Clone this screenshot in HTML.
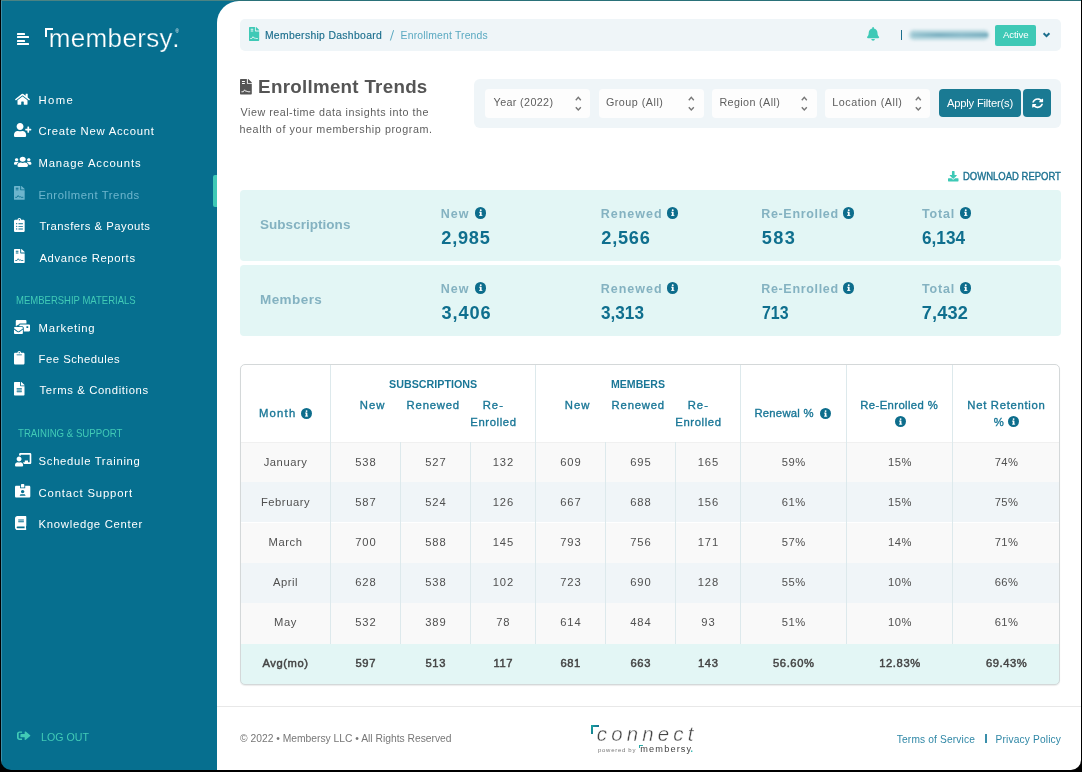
<!DOCTYPE html>
<html><head><meta charset="utf-8"><title>Enrollment Trends</title>
<style>
html,body{margin:0;padding:0;background:#000;width:1082px;height:772px;overflow:hidden}
#win{will-change:transform;position:absolute;left:0;top:0;width:1082px;height:772px;background:#066f8f;clip-path:inset(0px 1px 2px 1px round 0px 0px 10px 10px);overflow:hidden;font-family:"Liberation Sans",sans-serif}
.t{position:absolute;line-height:1;white-space:nowrap;font-family:"Liberation Sans",sans-serif}
svg{overflow:visible}
</style></head><body>
<div id="win">
<div style="position:absolute;left:0px;top:0px;width:1082px;height:1px;background:#4b8383"></div>
<div style="position:absolute;left:234px;top:0px;width:848px;height:1px;background:#2a7179"></div>
<div style="position:absolute;left:1px;top:1px;width:1px;height:771px;background:#3a8faa"></div>
<div style="position:absolute;left:217px;top:1px;width:865px;height:771px;background:#fff;border-top-left-radius:22px"></div>
<div style="position:absolute;left:17px;top:32.9px;width:7.9px;height:2px;background:#fff;border-radius:0.5px"></div>
<div style="position:absolute;left:17px;top:36.1px;width:12.1px;height:2px;background:#fff;border-radius:0.5px"></div>
<div style="position:absolute;left:17px;top:39.6px;width:7.9px;height:2px;background:#fff;border-radius:0.5px"></div>
<div style="position:absolute;left:17px;top:43.1px;width:12.1px;height:2px;background:#fff;border-radius:0.5px"></div>
<div style="position:absolute;left:45px;top:28.4px;width:7.6px;height:1.9px;background:#fff"></div>
<div style="position:absolute;left:45px;top:28.4px;width:1.9px;height:9.1px;background:#fff"></div>
<div class="t" style="left:175.6px;top:29.6px;font-size:4.5px;color:#fff">&#174;</div>
<svg style="position:absolute;left:14.7px;top:92.6px" width="15" height="12.5" viewBox="0 0 576 512" preserveAspectRatio="none"><path fill="#ffffff" d="M280.37 148.26L96 300.11V464a16 16 0 0 0 16 16l112.06-.29a16 16 0 0 0 15.92-16V368a16 16 0 0 1 16-16h64a16 16 0 0 1 16 16v95.64a16 16 0 0 0 16 16.05L464 480a16 16 0 0 0 16-16V300L295.67 148.26a12.19 12.19 0 0 0-15.3 0zM571.6 251.47L488 182.56V44.05a12 12 0 0 0-12-12h-56a12 12 0 0 0-12 12v72.61L318.47 43a48 48 0 0 0-61 0L4.34 251.47a12 12 0 0 0-1.6 16.9l25.5 31A12 12 0 0 0 45.15 301l235.22-193.74a12.19 12.19 0 0 1 15.3 0L530.9 301a12 12 0 0 0 16.9-1.6l25.5-31a12 12 0 0 0-1.7-16.93z"/></svg>
<svg style="position:absolute;left:14.4px;top:123px" width="17.3" height="14" viewBox="0 0 640 512" preserveAspectRatio="none"><path fill="#ffffff" d="M624 208h-64v-64c0-8.8-7.2-16-16-16h-32c-8.8 0-16 7.2-16 16v64h-64c-8.8 0-16 7.2-16 16v32c0 8.8 7.2 16 16 16h64v64c0 8.8 7.2 16 16 16h32c8.8 0 16-7.2 16-16v-64h64c8.8 0 16-7.2 16-16v-32c0-8.8-7.2-16-16-16zm-400 48c70.7 0 128-57.3 128-128S294.7 0 224 0 96 57.3 96 128s57.3 128 128 128zm89.6 32h-16.7c-22.2 10.2-46.9 16-72.9 16s-50.6-5.8-72.9-16h-16.7C60.2 288 0 348.2 0 422.4V464c0 26.5 21.5 48 48 48h352c26.5 0 48-21.5 48-48v-41.6c0-74.2-60.2-134.4-134.4-134.4z"/></svg>
<svg style="position:absolute;left:14.4px;top:156.2px" width="17.4" height="11.7" viewBox="0 0 640 512" preserveAspectRatio="none"><path fill="#ffffff" d="M96 224c35.3 0 64-28.7 64-64s-28.7-64-64-64-64 28.7-64 64 28.7 64 64 64zm448 0c35.3 0 64-28.7 64-64s-28.7-64-64-64-64 28.7-64 64 28.7 64 64 64zm32 32h-64c-17.6 0-33.5 7.1-45.1 18.6 40.3 22.1 68.9 62 75.1 109.4h66c17.7 0 32-14.3 32-32v-32c0-35.3-28.7-64-64-64zm-256 0c61.9 0 112-50.1 112-112S381.9 32 320 32 208 82.1 208 144s50.1 112 112 112zm76.8 32h-8.3c-20.8 10-43.9 16-68.5 16s-47.6-6-68.5-16h-8.3C179.6 288 128 339.6 128 403.2V432c0 26.5 21.5 48 48 48h288c26.5 0 48-21.5 48-48v-28.8c0-63.6-51.6-115.2-115.2-115.2zm-223.7-13.4C161.5 263.1 145.6 256 128 256H64c-35.3 0-64 28.7-64 64v32c0 17.7 14.3 32 32 32h65.9c6.3-47.4 34.9-87.3 75.2-109.4z"/></svg>
<svg style="position:absolute;left:14.4px;top:186px" width="10.7" height="13.8" viewBox="0 0 384 512" preserveAspectRatio="none"><path fill="#6db5cd" d="M224 136V0H24C10.7 0 0 10.7 0 24v464c0 13.3 10.7 24 24 24h336c13.3 0 24-10.7 24-24V160H248c-13.2 0-24-10.8-24-24z"/><path fill="#6db5cd" d="M377 105L279.1 7c-4.5-4.5-10.6-7-17-7H256v128h128v-6.1c0-6.3-2.5-12.4-7-16.9z"/><rect x="64" y="64" width="96" height="34" rx="8" fill="#066f8f"/><rect x="64" y="128" width="96" height="34" rx="8" fill="#066f8f"/><path d="M60 420 L110 418 L150 355 L190 410 L225 395 L255 420 L320 420" fill="none" stroke="#066f8f" stroke-width="30" stroke-linejoin="round" stroke-linecap="round"/></svg>
<svg style="position:absolute;left:14.4px;top:218px" width="10.7" height="14" viewBox="0 0 384 512" preserveAspectRatio="none"><path fill="#ffffff" d="M336 64h-80c0-35.3-28.7-64-64-64s-64 28.7-64 64H48C21.5 64 0 85.5 0 112v352c0 26.5 21.5 48 48 48h288c26.5 0 48-21.5 48-48V112c0-26.5-21.5-48-48-48zM96 424c-13.3 0-24-10.7-24-24s10.7-24 24-24 24 10.7 24 24-10.7 24-24 24zm0-96c-13.3 0-24-10.7-24-24s10.7-24 24-24 24 10.7 24 24-10.7 24-24 24zm0-96c-13.3 0-24-10.7-24-24s10.7-24 24-24 24 10.7 24 24-10.7 24-24 24zm96-192c13.3 0 24 10.7 24 24s-10.7 24-24 24-24-10.7-24-24 10.7-24 24-24zm128 368c0 4.4-3.6 8-8 8H168c-4.4 0-8-3.6-8-8v-16c0-4.4 3.6-8 8-8h144c4.4 0 8 3.6 8 8v16zm0-96c0 4.4-3.6 8-8 8H168c-4.4 0-8-3.6-8-8v-16c0-4.4 3.6-8 8-8h144c4.4 0 8 3.6 8 8v16zm0-96c0 4.4-3.6 8-8 8H168c-4.4 0-8-3.6-8-8v-16c0-4.4 3.6-8 8-8h144c4.4 0 8 3.6 8 8v16z"/></svg>
<svg style="position:absolute;left:14.4px;top:249px" width="10.7" height="14" viewBox="0 0 384 512" preserveAspectRatio="none"><path fill="#ffffff" d="M224 136V0H24C10.7 0 0 10.7 0 24v464c0 13.3 10.7 24 24 24h336c13.3 0 24-10.7 24-24V160H248c-13.2 0-24-10.8-24-24z"/><path fill="#ffffff" d="M377 105L279.1 7c-4.5-4.5-10.6-7-17-7H256v128h128v-6.1c0-6.3-2.5-12.4-7-16.9z"/><rect x="64" y="64" width="96" height="34" rx="8" fill="#066f8f"/><rect x="64" y="128" width="96" height="34" rx="8" fill="#066f8f"/><path d="M60 420 L110 418 L150 355 L190 410 L225 395 L255 420 L320 420" fill="none" stroke="#066f8f" stroke-width="30" stroke-linejoin="round" stroke-linecap="round"/></svg>
<svg style="position:absolute;left:14.2px;top:320px" width="16" height="14" viewBox="0 0 576 512" preserveAspectRatio="none"><path fill="#ffffff" d="M160 448c-25.6 0-51.2-22.4-64-32-64-44.8-83.2-60.8-96-70.4V480c0 17.67 14.33 32 32 32h256c17.67 0 32-14.33 32-32V345.6c-12.8 9.6-32 25.6-96 70.4-12.8 9.6-38.4 32-64 32zm128-192H32c-17.67 0-32 14.33-32 32v16c25.6 19.2 22.4 19.2 115.2 86.4 9.6 6.4 28.8 25.6 44.8 25.6s35.2-19.2 44.8-22.4c92.8-67.2 89.6-67.2 115.2-86.4V288c0-17.670-14.33-32-32-32zm256-96H224c-17.67 0-32 14.33-32 32v32h96c33.21 0 60.59 25.42 63.71 57.82l.29-.22V416h192c17.67 0 32-14.33 32-32V192c0-17.67-14.33-32-32-32zm-32 128h-64v-64h64v64zm-352-96c0-35.29 28.71-64 64-64h224V32c0-17.67-14.33-32-32-32H96C78.33 0 64 14.33 64 32v192h32v-32z"/></svg>
<svg style="position:absolute;left:14.4px;top:351px" width="10.5" height="13.5" viewBox="0 0 384 512" preserveAspectRatio="none"><path fill="#ffffff" d="M384 112v352c0 26.51-21.49 48-48 48H48c-26.51 0-48-21.49-48-48V112c0-26.51 21.49-48 48-48h80c0-35.29 28.71-64 64-64s64 28.71 64 64h80c26.51 0 48 21.49 48 48zM192 40c-13.255 0-24 10.745-24 24s10.745 24 24 24 24-10.745 24-24-10.745-24-24-24m96 114v-20a6 6 0 0 0-6-6H102a6 6 0 0 0-6 6v20a6 6 0 0 0 6 6h180a6 6 0 0 0 6-6z"/></svg>
<svg style="position:absolute;left:14.4px;top:382px" width="10.5" height="13.5" viewBox="0 0 384 512" preserveAspectRatio="none"><path fill="#ffffff" d="M224 136V0H24C10.7 0 0 10.7 0 24v464c0 13.3 10.7 24 24 24h336c13.3 0 24-10.7 24-24V160H248c-13.2 0-24-10.8-24-24zm64 236c0 6.6-5.4 12-12 12H108c-6.6 0-12-5.4-12-12v-8c0-6.6 5.4-12 12-12h168c6.6 0 12 5.4 12 12v8zm0-64c0 6.6-5.4 12-12 12H108c-6.6 0-12-5.4-12-12v-8c0-6.6 5.4-12 12-12h168c6.6 0 12 5.4 12 12v8zm0-72v8c0 6.6-5.4 12-12 12H108c-6.6 0-12-5.4-12-12v-8c0-6.6 5.4-12 12-12h168c6.6 0 12 5.4 12 12zm96-114.1v6.1H256V0h6.1c6.4 0 12.5 2.5 17 7l97.9 98c4.5 4.5 7 10.6 7 16.9z"/></svg>
<svg style="position:absolute;left:14.8px;top:452.5px" width="16.3" height="13.5" viewBox="0 0 640 512" preserveAspectRatio="none"><path fill="#ffffff" d="M208 352c-2.39 0-4.78.35-7.06 1.09C187.98 357.3 174.35 360 160 360c-14.35 0-27.980-2.7-40.95-6.91-2.28-.74-4.66-1.09-7.05-1.09C49.94 352-.33 402.48 0 464.62.14 490.88 21.73 512 48 512h224c26.27 0 47.86-21.12 48-47.38.33-62.14-49.94-112.62-112-112.62zm-48-32c53.02 0 96-42.98 96-96s-42.98-96-96-96-96 42.98-96 96 42.98 96 96 96zM592 0H208c-26.47 0-48 22.25-48 49.59V96c23.42 0 45.1 6.78 64 17.8V64h352v288h-64v-64H384v64h-76.24c19.1 16.69 33.12 38.73 39.69 64H592c26.47 0 48-22.25 48-49.59V49.59C640 22.25 618.47 0 592 0z"/></svg>
<svg style="position:absolute;left:14.8px;top:483.5px" width="15.3" height="13.5" viewBox="0 0 576 512" preserveAspectRatio="none"><path fill="#ffffff" d="M528 64H384v96H192V64H48C21.5 64 0 85.5 0 112v352c0 26.5 21.5 48 48 48h480c26.5 0 48-21.5 48-48V112c0-26.5-21.5-48-48-48zM288 224c35.3 0 64 28.7 64 64s-28.7 64-64 64-64-28.7-64-64 28.7-64 64-64zm93.3 224H194.7c-10.4 0-18.8-10-15.6-19.8 8.3-25.6 32.4-44.2 60.7-44.2h8.2c12.3 5.1 25.7 8 39.8 8s27.6-2.9 39.8-8h8.2c28.4 0 52.4 18.5 60.7 44.2 3.2 9.8-5.2 19.8-15.6 19.8zM352 32c0-17.7-14.3-32-32-32h-64c-17.7 0-32 14.3-32 32v96h128V32z"/></svg>
<svg style="position:absolute;left:14.9px;top:516px" width="11.3" height="14" viewBox="0 0 448 512" preserveAspectRatio="none"><path fill="#ffffff" d="M448 360V24c0-13.3-10.7-24-24-24H96C43 0 0 43 0 96v320c0 53 43 96 96 96h328c13.3 0 24-10.7 24-24v-16c0-7.5-3.5-14.3-8.9-18.7-4.2-15.4-4.2-59.3 0-74.7 5.4-4.3 8.9-11.1 8.9-18.6zM128 134c0-3.3 2.7-6 6-6h212c3.3 0 6 2.7 6 6v20c0 3.3-2.7 6-6 6H134c-3.3 0-6-2.7-6-6v-20zm0 64c0-3.3 2.7-6 6-6h212c3.3 0 6 2.7 6 6v20c0 3.3-2.7 6-6 6H134c-3.3 0-6-2.7-6-6v-20zm253.4 250H96c-17.7 0-32-14.3-32-32 0-17.6 14.4-32 32-32h285.4c-1.9 17.1-1.9 46.9 0 64z"/></svg>
<svg style="position:absolute;left:16.8px;top:730.3px" width="13.6" height="11.4" viewBox="0 0 512 512" preserveAspectRatio="none"><path fill="#41cab6" d="M497 273L329 441c-15 15-41 4.5-41-17v-96H152c-13.3 0-24-10.7-24-24v-96c0-13.3 10.7-24 24-24h136V88c0-21.4 25.9-32 41-17l168 168c9.3 9.4 9.3 24.6 0 34zM192 436v-40c0-6.6-5.4-12-12-12H96c-17.7 0-32-14.3-32-32V160c0-17.7 14.3-32 32-32h84c6.6 0 12-5.4 12-12V76c0-6.6-5.4-12-12-12H96c-53 0-96 43-96 96v192c0 53 43 96 96 96h84c6.6 0 12-5.4 12-12z"/></svg>
<div style="position:absolute;left:213px;top:175px;width:4px;height:32px;background:#3ec9b6;border-radius:2px 0 0 2px"></div>
<div style="position:absolute;left:240px;top:19px;width:821px;height:32px;background:#eff5f8;border-radius:5px"></div>
<svg style="position:absolute;left:249px;top:27px" width="10.2" height="14" viewBox="0 0 384 512" preserveAspectRatio="none"><path fill="#3ec9b6" d="M224 136V0H24C10.7 0 0 10.7 0 24v464c0 13.3 10.7 24 24 24h336c13.3 0 24-10.7 24-24V160H248c-13.2 0-24-10.8-24-24z"/><path fill="#3ec9b6" d="M377 105L279.1 7c-4.5-4.5-10.6-7-17-7H256v128h128v-6.1c0-6.3-2.5-12.4-7-16.9z"/><rect x="64" y="64" width="96" height="34" rx="8" fill="#eff5f8"/><rect x="64" y="128" width="96" height="34" rx="8" fill="#eff5f8"/><path d="M60 420 L110 418 L150 355 L190 410 L225 395 L255 420 L320 420" fill="none" stroke="#eff5f8" stroke-width="30" stroke-linejoin="round" stroke-linecap="round"/></svg>
<svg style="position:absolute;left:388px;top:29px" width="8" height="13"><line x1="5.6" y1="1.2" x2="2.4" y2="11.5" stroke="#5aa9c1" stroke-width="1"/></svg>
<svg style="position:absolute;left:867.2px;top:27px" width="12.2" height="13.8" viewBox="0 0 448 512" preserveAspectRatio="none"><path fill="#3ec9b6" d="M224 512c35.32 0 63.97-28.65 63.97-64H160.03c0 35.35 28.65 64 63.97 64zm215.39-149.71c-19.32-20.76-55.47-51.990-55.47-154.29 0-77.7-54.48-139.9-127.94-155.16V32c0-17.67-14.32-32-31.98-32s-31.98 14.33-31.98 32v20.84C118.56 68.1 64.08 130.3 64.08 208c0 102.3-36.15 133.53-55.47 154.29-6 6.45-8.66 14.16-8.61 21.71.11 16.4 12.98 32 32.1 32h383.8c19.12 0 32-15.6 32.1-32 .05-7.55-2.61-15.27-8.61-21.71z"/></svg>
<div style="position:absolute;left:900.5px;top:30.3px;width:1.2px;height:9.5px;background:#1b6e8d"></div>
<div style="position:absolute;left:909px;top:29.5px;width:80px;height:10px;background:#b4d5de;border-radius:5px;filter:blur(1.8px)"></div>
<div style="position:absolute;left:912px;top:32.5px;width:76px;height:4px;background:linear-gradient(90deg,#9cc6d2,#7fb2c2 35%,#8dbccb 65%,#7db1c1);border-radius:2px;filter:blur(1.2px)"></div>
<div style="position:absolute;left:995px;top:25px;width:41px;height:21px;background:#3ec9b6;border-radius:2px"></div>
<svg style="position:absolute;left:1042px;top:31px" width="9" height="8"><path d="M1.6 2.3 L4.5 5.2 L7.4 2.3" fill="none" stroke="#1b6e8d" stroke-width="2"/></svg>
<svg style="position:absolute;left:240.2px;top:79px" width="11.8" height="15.6" viewBox="0 0 384 512" preserveAspectRatio="none"><path fill="#555555" d="M224 136V0H24C10.7 0 0 10.7 0 24v464c0 13.3 10.7 24 24 24h336c13.3 0 24-10.7 24-24V160H248c-13.2 0-24-10.8-24-24z"/><path fill="#555555" d="M377 105L279.1 7c-4.5-4.5-10.6-7-17-7H256v128h128v-6.1c0-6.3-2.5-12.4-7-16.9z"/><rect x="64" y="64" width="96" height="34" rx="8" fill="#ffffff"/><rect x="64" y="128" width="96" height="34" rx="8" fill="#ffffff"/><path d="M60 420 L110 418 L150 355 L190 410 L225 395 L255 420 L320 420" fill="none" stroke="#ffffff" stroke-width="30" stroke-linejoin="round" stroke-linecap="round"/></svg>
<div style="position:absolute;left:474px;top:79px;width:587px;height:49px;background:#eff5f8;border-radius:6px"></div>
<div style="position:absolute;left:485px;top:89px;width:105px;height:29px;background:#fdfdfd;border-radius:4px"></div>
<div style="position:absolute;left:599px;top:89px;width:105px;height:29px;background:#fdfdfd;border-radius:4px"></div>
<div style="position:absolute;left:712px;top:89px;width:105px;height:29px;background:#fdfdfd;border-radius:4px"></div>
<div style="position:absolute;left:825px;top:89px;width:105px;height:29px;background:#fdfdfd;border-radius:4px"></div>
<svg style="position:absolute;left:575.3px;top:95.5px" width="7" height="16"><path d="M0.8 4.2 L3.3 1.4 L5.8 4.2 M0.8 11.2 L3.3 14 L5.8 11.2" fill="none" stroke="#777" stroke-width="1.4"/></svg>
<svg style="position:absolute;left:688.3px;top:95.5px" width="7" height="16"><path d="M0.8 4.2 L3.3 1.4 L5.8 4.2 M0.8 11.2 L3.3 14 L5.8 11.2" fill="none" stroke="#777" stroke-width="1.4"/></svg>
<svg style="position:absolute;left:801.2px;top:95.5px" width="7" height="16"><path d="M0.8 4.2 L3.3 1.4 L5.8 4.2 M0.8 11.2 L3.3 14 L5.8 11.2" fill="none" stroke="#777" stroke-width="1.4"/></svg>
<svg style="position:absolute;left:914.6px;top:95.5px" width="7" height="16"><path d="M0.8 4.2 L3.3 1.4 L5.8 4.2 M0.8 11.2 L3.3 14 L5.8 11.2" fill="none" stroke="#777" stroke-width="1.4"/></svg>
<div style="position:absolute;left:939px;top:89px;width:82px;height:28px;background:#1a7a93;border-radius:4px"></div>
<div style="position:absolute;left:1023px;top:89px;width:28px;height:28px;background:#1a7a93;border-radius:4px"></div>
<svg style="position:absolute;left:1031.7px;top:98.2px" width="11.3" height="10.3" viewBox="0 0 512 512" preserveAspectRatio="none"><path fill="#fff" d="M370.72 133.28C339.458 104.008 298.888 87.962 255.848 88c-77.458.068-144.328 53.178-162.791 126.85-1.344 5.363-6.122 9.15-11.651 9.15H24.103c-7.498 0-13.194-6.807-11.807-14.176C33.933 94.924 134.813 8 256 8c66.448 0 126.791 26.136 171.315 68.685L463.03 40.97C478.149 25.851 504 36.559 504 57.941V192c0 13.255-10.745 24-24 24H345.941c-21.382 0-32.09-25.851-16.971-40.971l41.75-41.749zM32 296h134.059c21.382 0 32.09 25.851 16.971 40.971l-41.75 41.75c31.262 29.273 71.835 45.319 114.876 45.28 77.418-.07 144.315-53.144 162.787-126.849 1.344-5.363 6.122-9.15 11.651-9.15h57.304c7.498 0 13.194 6.807 11.807 14.176C478.067 417.076 377.187 504 256 504c-66.448 0-126.791-26.136-171.315-68.685L48.97 471.03C33.851 486.149 8 475.441 8 454.059V320c0-13.255 10.745-24 24-24z"/></svg>
<svg style="position:absolute;left:947.6px;top:170.8px" width="10.5" height="10.5" viewBox="0 0 512 512" preserveAspectRatio="none"><path fill="#3ec9b6" d="M216 0h80c13.3 0 24 10.7 24 24v168h87.7c17.8 0 26.7 21.5 14.1 34.1L269.7 378.3c-7.5 7.5-19.8 7.5-27.3 0L90.1 226.1c-12.6-12.6-3.7-34.1 14.1-34.1H192V24c0-13.3 10.7-24 24-24zm296 376v112c0 13.3-10.7 24-24 24H24c-13.3 0-24-10.7-24-24V376c0-13.3 10.7-24 24-24h146.7l49 49c20.1 20.1 52.5 20.1 72.6 0l49-49H488c13.3 0 24 10.7 24 24z"/></svg>
<div style="position:absolute;left:240px;top:190px;width:821px;height:71px;background:#e3f6f5;border-radius:4px"></div>
<div style="position:absolute;left:240px;top:265px;width:821px;height:71px;background:#e3f6f5;border-radius:4px"></div>
<div style="position:absolute;left:474.8px;top:207px;width:11.5px;height:11.5px;border-radius:50%;background:#0d6d8c"></div>
<svg style="position:absolute;left:474.8px;top:207px" width="11.5" height="11.5" viewBox="0 0 12 12"><rect x="5.1" y="5" width="1.8" height="4" fill="#fff"/><rect x="4.3" y="5" width="2" height="0.9" fill="#fff"/><rect x="4.3" y="8.3" width="3.4" height="0.9" fill="#fff"/><circle cx="6" cy="3.3" r="1" fill="#fff"/></svg>
<div style="position:absolute;left:666.8px;top:207px;width:11.5px;height:11.5px;border-radius:50%;background:#0d6d8c"></div>
<svg style="position:absolute;left:666.8px;top:207px" width="11.5" height="11.5" viewBox="0 0 12 12"><rect x="5.1" y="5" width="1.8" height="4" fill="#fff"/><rect x="4.3" y="5" width="2" height="0.9" fill="#fff"/><rect x="4.3" y="8.3" width="3.4" height="0.9" fill="#fff"/><circle cx="6" cy="3.3" r="1" fill="#fff"/></svg>
<div style="position:absolute;left:842.6px;top:207px;width:11.5px;height:11.5px;border-radius:50%;background:#0d6d8c"></div>
<svg style="position:absolute;left:842.6px;top:207px" width="11.5" height="11.5" viewBox="0 0 12 12"><rect x="5.1" y="5" width="1.8" height="4" fill="#fff"/><rect x="4.3" y="5" width="2" height="0.9" fill="#fff"/><rect x="4.3" y="8.3" width="3.4" height="0.9" fill="#fff"/><circle cx="6" cy="3.3" r="1" fill="#fff"/></svg>
<div style="position:absolute;left:959.6px;top:207px;width:11.5px;height:11.5px;border-radius:50%;background:#0d6d8c"></div>
<svg style="position:absolute;left:959.6px;top:207px" width="11.5" height="11.5" viewBox="0 0 12 12"><rect x="5.1" y="5" width="1.8" height="4" fill="#fff"/><rect x="4.3" y="5" width="2" height="0.9" fill="#fff"/><rect x="4.3" y="8.3" width="3.4" height="0.9" fill="#fff"/><circle cx="6" cy="3.3" r="1" fill="#fff"/></svg>
<div style="position:absolute;left:474.8px;top:282.1px;width:11.5px;height:11.5px;border-radius:50%;background:#0d6d8c"></div>
<svg style="position:absolute;left:474.8px;top:282.1px" width="11.5" height="11.5" viewBox="0 0 12 12"><rect x="5.1" y="5" width="1.8" height="4" fill="#fff"/><rect x="4.3" y="5" width="2" height="0.9" fill="#fff"/><rect x="4.3" y="8.3" width="3.4" height="0.9" fill="#fff"/><circle cx="6" cy="3.3" r="1" fill="#fff"/></svg>
<div style="position:absolute;left:666.8px;top:282.1px;width:11.5px;height:11.5px;border-radius:50%;background:#0d6d8c"></div>
<svg style="position:absolute;left:666.8px;top:282.1px" width="11.5" height="11.5" viewBox="0 0 12 12"><rect x="5.1" y="5" width="1.8" height="4" fill="#fff"/><rect x="4.3" y="5" width="2" height="0.9" fill="#fff"/><rect x="4.3" y="8.3" width="3.4" height="0.9" fill="#fff"/><circle cx="6" cy="3.3" r="1" fill="#fff"/></svg>
<div style="position:absolute;left:842.6px;top:282.1px;width:11.5px;height:11.5px;border-radius:50%;background:#0d6d8c"></div>
<svg style="position:absolute;left:842.6px;top:282.1px" width="11.5" height="11.5" viewBox="0 0 12 12"><rect x="5.1" y="5" width="1.8" height="4" fill="#fff"/><rect x="4.3" y="5" width="2" height="0.9" fill="#fff"/><rect x="4.3" y="8.3" width="3.4" height="0.9" fill="#fff"/><circle cx="6" cy="3.3" r="1" fill="#fff"/></svg>
<div style="position:absolute;left:959.6px;top:282.1px;width:11.5px;height:11.5px;border-radius:50%;background:#0d6d8c"></div>
<svg style="position:absolute;left:959.6px;top:282.1px" width="11.5" height="11.5" viewBox="0 0 12 12"><rect x="5.1" y="5" width="1.8" height="4" fill="#fff"/><rect x="4.3" y="5" width="2" height="0.9" fill="#fff"/><rect x="4.3" y="8.3" width="3.4" height="0.9" fill="#fff"/><circle cx="6" cy="3.3" r="1" fill="#fff"/></svg>
<div style="position:absolute;left:240px;top:364px;width:820px;height:321px;background:#fff;border-radius:5px"></div>
<div style="position:absolute;left:240px;top:442px;width:820px;height:40.39999999999998px;background:#f9f9f9"></div>
<div style="position:absolute;left:240px;top:482.4px;width:820px;height:40.10000000000002px;background:#f0f5f8"></div>
<div style="position:absolute;left:240px;top:522.5px;width:820px;height:40.0px;background:#f9f9f9"></div>
<div style="position:absolute;left:240px;top:562.5px;width:820px;height:40.0px;background:#f0f5f8"></div>
<div style="position:absolute;left:240px;top:602.5px;width:820px;height:41.200000000000045px;background:#f9f9f9"></div>
<div style="position:absolute;left:240px;top:643.7px;width:820px;height:41.299999999999955px;background:#e3f6f5;border-radius:0 0 5px 5px"></div>
<div style="position:absolute;left:240px;top:441.6px;width:820px;height:1px;background:#f0f0f0"></div>
<div style="position:absolute;left:330.0px;top:364px;width:1px;height:78px;background:#dde9ec"></div>
<div style="position:absolute;left:534.9px;top:364px;width:1px;height:78px;background:#dde9ec"></div>
<div style="position:absolute;left:739.8px;top:364px;width:1px;height:78px;background:#dde9ec"></div>
<div style="position:absolute;left:846.2px;top:364px;width:1px;height:78px;background:#dde9ec"></div>
<div style="position:absolute;left:952.2px;top:364px;width:1px;height:78px;background:#dde9ec"></div>
<div style="position:absolute;left:330.0px;top:442px;width:1px;height:201.70000000000005px;background:#dde9ec"></div>
<div style="position:absolute;left:399.9px;top:442px;width:1px;height:201.70000000000005px;background:#dde9ec"></div>
<div style="position:absolute;left:470.0px;top:442px;width:1px;height:201.70000000000005px;background:#dde9ec"></div>
<div style="position:absolute;left:534.9px;top:442px;width:1px;height:201.70000000000005px;background:#dde9ec"></div>
<div style="position:absolute;left:604.9px;top:442px;width:1px;height:201.70000000000005px;background:#dde9ec"></div>
<div style="position:absolute;left:675.1px;top:442px;width:1px;height:201.70000000000005px;background:#dde9ec"></div>
<div style="position:absolute;left:739.8px;top:442px;width:1px;height:201.70000000000005px;background:#dde9ec"></div>
<div style="position:absolute;left:846.2px;top:442px;width:1px;height:201.70000000000005px;background:#dde9ec"></div>
<div style="position:absolute;left:952.2px;top:442px;width:1px;height:201.70000000000005px;background:#dde9ec"></div>
<div style="position:absolute;left:240px;top:364px;width:818px;height:319px;border:1px solid #d4d8d9;border-radius:5px;box-shadow:0 1px 1px rgba(0,0,0,0.08)"></div>
<div style="position:absolute;left:300.9px;top:407.9px;width:11.1px;height:11.1px;border-radius:50%;background:#0d6d8c"></div>
<svg style="position:absolute;left:300.9px;top:407.9px" width="11.1" height="11.1" viewBox="0 0 12 12"><rect x="5.1" y="5" width="1.8" height="4" fill="#fff"/><rect x="4.3" y="5" width="2" height="0.9" fill="#fff"/><rect x="4.3" y="8.3" width="3.4" height="0.9" fill="#fff"/><circle cx="6" cy="3.3" r="1" fill="#fff"/></svg>
<div style="position:absolute;left:819.9px;top:408.3px;width:11.2px;height:11.2px;border-radius:50%;background:#0d6d8c"></div>
<svg style="position:absolute;left:819.9px;top:408.3px" width="11.2" height="11.2" viewBox="0 0 12 12"><rect x="5.1" y="5" width="1.8" height="4" fill="#fff"/><rect x="4.3" y="5" width="2" height="0.9" fill="#fff"/><rect x="4.3" y="8.3" width="3.4" height="0.9" fill="#fff"/><circle cx="6" cy="3.3" r="1" fill="#fff"/></svg>
<div style="position:absolute;left:895px;top:416px;width:11.2px;height:11.2px;border-radius:50%;background:#0d6d8c"></div>
<svg style="position:absolute;left:895px;top:416px" width="11.2" height="11.2" viewBox="0 0 12 12"><rect x="5.1" y="5" width="1.8" height="4" fill="#fff"/><rect x="4.3" y="5" width="2" height="0.9" fill="#fff"/><rect x="4.3" y="8.3" width="3.4" height="0.9" fill="#fff"/><circle cx="6" cy="3.3" r="1" fill="#fff"/></svg>
<div style="position:absolute;left:1008.3px;top:416px;width:11.2px;height:11.2px;border-radius:50%;background:#0d6d8c"></div>
<svg style="position:absolute;left:1008.3px;top:416px" width="11.2" height="11.2" viewBox="0 0 12 12"><rect x="5.1" y="5" width="1.8" height="4" fill="#fff"/><rect x="4.3" y="5" width="2" height="0.9" fill="#fff"/><rect x="4.3" y="8.3" width="3.4" height="0.9" fill="#fff"/><circle cx="6" cy="3.3" r="1" fill="#fff"/></svg>
<div class="t" style="left:240.28px;width:90.5px;text-align:center;top:456.62px;font-size:11.2px;letter-spacing:0.55px;color:#505050;">January</div>
<div class="t" style="left:330.95px;width:69.89999999999998px;text-align:center;top:456.62px;font-size:11.2px;letter-spacing:0.9px;color:#505050;">538</div>
<div class="t" style="left:400.85px;width:70.10000000000002px;text-align:center;top:456.62px;font-size:11.2px;letter-spacing:0.9px;color:#505050;">527</div>
<div class="t" style="left:470.95px;width:64.89999999999998px;text-align:center;top:456.62px;font-size:11.2px;letter-spacing:0.9px;color:#505050;">132</div>
<div class="t" style="left:535.85px;width:70.0px;text-align:center;top:456.62px;font-size:11.2px;letter-spacing:0.9px;color:#505050;">609</div>
<div class="t" style="left:605.85px;width:70.20000000000005px;text-align:center;top:456.62px;font-size:11.2px;letter-spacing:0.9px;color:#505050;">695</div>
<div class="t" style="left:676.05px;width:64.69999999999993px;text-align:center;top:456.62px;font-size:11.2px;letter-spacing:0.9px;color:#505050;">165</div>
<div class="t" style="left:740.55px;width:106.40000000000009px;text-align:center;top:456.62px;font-size:11.2px;letter-spacing:0.5px;color:#505050;">59%</div>
<div class="t" style="left:846.95px;width:106.0px;text-align:center;top:456.62px;font-size:11.2px;letter-spacing:0.5px;color:#505050;">15%</div>
<div class="t" style="left:952.95px;width:107.29999999999995px;text-align:center;top:456.62px;font-size:11.2px;letter-spacing:0.5px;color:#505050;">74%</div>
<div class="t" style="left:240.28px;width:90.5px;text-align:center;top:496.92px;font-size:11.2px;letter-spacing:0.55px;color:#505050;">February</div>
<div class="t" style="left:330.95px;width:69.89999999999998px;text-align:center;top:496.92px;font-size:11.2px;letter-spacing:0.9px;color:#505050;">587</div>
<div class="t" style="left:400.85px;width:70.10000000000002px;text-align:center;top:496.92px;font-size:11.2px;letter-spacing:0.9px;color:#505050;">524</div>
<div class="t" style="left:470.95px;width:64.89999999999998px;text-align:center;top:496.92px;font-size:11.2px;letter-spacing:0.9px;color:#505050;">126</div>
<div class="t" style="left:535.85px;width:70.0px;text-align:center;top:496.92px;font-size:11.2px;letter-spacing:0.9px;color:#505050;">667</div>
<div class="t" style="left:605.85px;width:70.20000000000005px;text-align:center;top:496.92px;font-size:11.2px;letter-spacing:0.9px;color:#505050;">688</div>
<div class="t" style="left:676.05px;width:64.69999999999993px;text-align:center;top:496.92px;font-size:11.2px;letter-spacing:0.9px;color:#505050;">156</div>
<div class="t" style="left:740.55px;width:106.40000000000009px;text-align:center;top:496.92px;font-size:11.2px;letter-spacing:0.5px;color:#505050;">61%</div>
<div class="t" style="left:846.95px;width:106.0px;text-align:center;top:496.92px;font-size:11.2px;letter-spacing:0.5px;color:#505050;">15%</div>
<div class="t" style="left:952.95px;width:107.29999999999995px;text-align:center;top:496.92px;font-size:11.2px;letter-spacing:0.5px;color:#505050;">75%</div>
<div class="t" style="left:240.28px;width:90.5px;text-align:center;top:537.02px;font-size:11.2px;letter-spacing:0.55px;color:#505050;">March</div>
<div class="t" style="left:330.95px;width:69.89999999999998px;text-align:center;top:537.02px;font-size:11.2px;letter-spacing:0.9px;color:#505050;">700</div>
<div class="t" style="left:400.85px;width:70.10000000000002px;text-align:center;top:537.02px;font-size:11.2px;letter-spacing:0.9px;color:#505050;">588</div>
<div class="t" style="left:470.95px;width:64.89999999999998px;text-align:center;top:537.02px;font-size:11.2px;letter-spacing:0.9px;color:#505050;">145</div>
<div class="t" style="left:535.85px;width:70.0px;text-align:center;top:537.02px;font-size:11.2px;letter-spacing:0.9px;color:#505050;">793</div>
<div class="t" style="left:605.85px;width:70.20000000000005px;text-align:center;top:537.02px;font-size:11.2px;letter-spacing:0.9px;color:#505050;">756</div>
<div class="t" style="left:676.05px;width:64.69999999999993px;text-align:center;top:537.02px;font-size:11.2px;letter-spacing:0.9px;color:#505050;">171</div>
<div class="t" style="left:740.55px;width:106.40000000000009px;text-align:center;top:537.02px;font-size:11.2px;letter-spacing:0.5px;color:#505050;">57%</div>
<div class="t" style="left:846.95px;width:106.0px;text-align:center;top:537.02px;font-size:11.2px;letter-spacing:0.5px;color:#505050;">14%</div>
<div class="t" style="left:952.95px;width:107.29999999999995px;text-align:center;top:537.02px;font-size:11.2px;letter-spacing:0.5px;color:#505050;">71%</div>
<div class="t" style="left:240.28px;width:90.5px;text-align:center;top:577.12px;font-size:11.2px;letter-spacing:0.55px;color:#505050;">April</div>
<div class="t" style="left:330.95px;width:69.89999999999998px;text-align:center;top:577.12px;font-size:11.2px;letter-spacing:0.9px;color:#505050;">628</div>
<div class="t" style="left:400.85px;width:70.10000000000002px;text-align:center;top:577.12px;font-size:11.2px;letter-spacing:0.9px;color:#505050;">538</div>
<div class="t" style="left:470.95px;width:64.89999999999998px;text-align:center;top:577.12px;font-size:11.2px;letter-spacing:0.9px;color:#505050;">102</div>
<div class="t" style="left:535.85px;width:70.0px;text-align:center;top:577.12px;font-size:11.2px;letter-spacing:0.9px;color:#505050;">723</div>
<div class="t" style="left:605.85px;width:70.20000000000005px;text-align:center;top:577.12px;font-size:11.2px;letter-spacing:0.9px;color:#505050;">690</div>
<div class="t" style="left:676.05px;width:64.69999999999993px;text-align:center;top:577.12px;font-size:11.2px;letter-spacing:0.9px;color:#505050;">128</div>
<div class="t" style="left:740.55px;width:106.40000000000009px;text-align:center;top:577.12px;font-size:11.2px;letter-spacing:0.5px;color:#505050;">55%</div>
<div class="t" style="left:846.95px;width:106.0px;text-align:center;top:577.12px;font-size:11.2px;letter-spacing:0.5px;color:#505050;">10%</div>
<div class="t" style="left:952.95px;width:107.29999999999995px;text-align:center;top:577.12px;font-size:11.2px;letter-spacing:0.5px;color:#505050;">66%</div>
<div class="t" style="left:240.28px;width:90.5px;text-align:center;top:617.22px;font-size:11.2px;letter-spacing:0.55px;color:#505050;">May</div>
<div class="t" style="left:330.95px;width:69.89999999999998px;text-align:center;top:617.22px;font-size:11.2px;letter-spacing:0.9px;color:#505050;">532</div>
<div class="t" style="left:400.85px;width:70.10000000000002px;text-align:center;top:617.22px;font-size:11.2px;letter-spacing:0.9px;color:#505050;">389</div>
<div class="t" style="left:470.95px;width:64.89999999999998px;text-align:center;top:617.22px;font-size:11.2px;letter-spacing:0.9px;color:#505050;">78</div>
<div class="t" style="left:535.85px;width:70.0px;text-align:center;top:617.22px;font-size:11.2px;letter-spacing:0.9px;color:#505050;">614</div>
<div class="t" style="left:605.85px;width:70.20000000000005px;text-align:center;top:617.22px;font-size:11.2px;letter-spacing:0.9px;color:#505050;">484</div>
<div class="t" style="left:676.05px;width:64.69999999999993px;text-align:center;top:617.22px;font-size:11.2px;letter-spacing:0.9px;color:#505050;">93</div>
<div class="t" style="left:740.55px;width:106.40000000000009px;text-align:center;top:617.22px;font-size:11.2px;letter-spacing:0.5px;color:#505050;">51%</div>
<div class="t" style="left:846.95px;width:106.0px;text-align:center;top:617.22px;font-size:11.2px;letter-spacing:0.5px;color:#505050;">10%</div>
<div class="t" style="left:952.95px;width:107.29999999999995px;text-align:center;top:617.22px;font-size:11.2px;letter-spacing:0.5px;color:#505050;">61%</div>
<div class="t" style="left:240.28px;width:90.5px;text-align:center;top:658.02px;font-size:11.2px;letter-spacing:0.55px;color:#444;-webkit-text-stroke:0.45px #444;">Avg(mo)</div>
<div class="t" style="left:330.80px;width:69.89999999999998px;text-align:center;top:658.02px;font-size:11.2px;letter-spacing:0.6px;color:#444;-webkit-text-stroke:0.45px #444;">597</div>
<div class="t" style="left:400.70px;width:70.10000000000002px;text-align:center;top:658.02px;font-size:11.2px;letter-spacing:0.6px;color:#444;-webkit-text-stroke:0.45px #444;">513</div>
<div class="t" style="left:470.80px;width:64.89999999999998px;text-align:center;top:658.02px;font-size:11.2px;letter-spacing:0.6px;color:#444;-webkit-text-stroke:0.45px #444;">117</div>
<div class="t" style="left:535.70px;width:70.0px;text-align:center;top:658.02px;font-size:11.2px;letter-spacing:0.6px;color:#444;-webkit-text-stroke:0.45px #444;">681</div>
<div class="t" style="left:605.70px;width:70.20000000000005px;text-align:center;top:658.02px;font-size:11.2px;letter-spacing:0.6px;color:#444;-webkit-text-stroke:0.45px #444;">663</div>
<div class="t" style="left:675.90px;width:64.69999999999993px;text-align:center;top:658.02px;font-size:11.2px;letter-spacing:0.6px;color:#444;-webkit-text-stroke:0.45px #444;">143</div>
<div class="t" style="left:740.60px;width:106.40000000000009px;text-align:center;top:658.02px;font-size:11.2px;letter-spacing:0.6px;color:#444;-webkit-text-stroke:0.45px #444;">56.60%</div>
<div class="t" style="left:847.00px;width:106.0px;text-align:center;top:658.02px;font-size:11.2px;letter-spacing:0.6px;color:#444;-webkit-text-stroke:0.45px #444;">12.83%</div>
<div class="t" style="left:953.00px;width:107.29999999999995px;text-align:center;top:658.02px;font-size:11.2px;letter-spacing:0.6px;color:#444;-webkit-text-stroke:0.45px #444;">69.43%</div>
<div style="position:absolute;left:217px;top:706px;width:865px;height:1px;background:#e8e8e8"></div>
<div style="position:absolute;left:591.2px;top:725.1px;width:7.6px;height:1.8px;background:linear-gradient(90deg,#1aa3a3,#17708f)"></div>
<div style="position:absolute;left:591.2px;top:725.1px;width:1.8px;height:9.2px;background:linear-gradient(180deg,#1aa3a3,#17808f)"></div>
<div style="position:absolute;left:639px;top:744.7px;width:3.5px;height:1.2px;background:#2aa7a5"></div>
<div style="position:absolute;left:639px;top:744.7px;width:1.2px;height:3.5px;background:#2aa7a5"></div>
<div style="position:absolute;left:985px;top:733.7px;width:2px;height:9.3px;background:#3a8fab"></div>
<div class="t" style="left:38.40px;top:95.33px;font-size:11.3px;font-weight:400;letter-spacing:1.400px;color:#ffffff;">Home</div>
<div class="t" style="left:38.40px;top:126.23px;font-size:11.3px;font-weight:400;letter-spacing:0.741px;color:#ffffff;">Create New Account</div>
<div class="t" style="left:38.40px;top:158.43px;font-size:11.3px;font-weight:400;letter-spacing:0.886px;color:#ffffff;">Manage Accounts</div>
<div class="t" style="left:38.40px;top:189.53px;font-size:11.3px;font-weight:400;letter-spacing:0.575px;color:#6db5cd;">Enrollment Trends</div>
<div class="t" style="left:39.40px;top:221.33px;font-size:11.3px;font-weight:400;letter-spacing:0.478px;color:#ffffff;">Transfers &amp; Payouts</div>
<div class="t" style="left:39.40px;top:252.53px;font-size:11.3px;font-weight:400;letter-spacing:0.643px;color:#ffffff;">Advance Reports</div>
<div class="t" style="left:16.47px;top:296.27px;font-size:10.2px;font-weight:400;letter-spacing:0.000px;color:#41cab6;transform:scaleX(0.9339);transform-origin:0 0;">MEMBERSHIP MATERIALS</div>
<div class="t" style="left:38.60px;top:323.33px;font-size:11.3px;font-weight:400;letter-spacing:0.800px;color:#ffffff;">Marketing</div>
<div class="t" style="left:38.60px;top:354.33px;font-size:11.3px;font-weight:400;letter-spacing:0.483px;color:#ffffff;">Fee Schedules</div>
<div class="t" style="left:39.60px;top:385.03px;font-size:11.3px;font-weight:400;letter-spacing:0.624px;color:#ffffff;">Terms &amp; Conditions</div>
<div class="t" style="left:17.50px;top:429.07px;font-size:10.2px;font-weight:400;letter-spacing:0.000px;color:#41cab6;transform:scaleX(0.9473);transform-origin:0 0;">TRAINING &amp; SUPPORT</div>
<div class="t" style="left:38.60px;top:456.43px;font-size:11.3px;font-weight:400;letter-spacing:0.675px;color:#ffffff;">Schedule Training</div>
<div class="t" style="left:38.60px;top:487.53px;font-size:11.3px;font-weight:400;letter-spacing:0.843px;color:#ffffff;">Contact Support</div>
<div class="t" style="left:38.60px;top:519.33px;font-size:11.3px;font-weight:400;letter-spacing:0.707px;color:#ffffff;">Knowledge Center</div>
<div class="t" style="left:40.66px;top:732.13px;font-size:11.3px;font-weight:400;letter-spacing:0.000px;color:#41cab6;transform:scaleX(0.9420);transform-origin:0 0;">LOG OUT</div>
<div class="t" style="left:264.90px;top:31.00px;font-size:10.4px;font-weight:400;letter-spacing:0.316px;color:#1b6e8d;-webkit-text-stroke:0.15px #1b6e8d;">Membership Dashboard</div>
<div class="t" style="left:400.60px;top:30.90px;font-size:10.4px;font-weight:400;letter-spacing:0.175px;color:#5aa9c1;">Enrollment Trends</div>
<div class="t" style="left:1003.00px;top:30.49px;font-size:9.7px;font-weight:400;letter-spacing:-0.160px;color:#ffffff;">Active</div>
<div class="t" style="left:258.10px;top:78.13px;font-size:18.75px;font-weight:700;letter-spacing:0.287px;color:#555555;">Enrollment Trends</div>
<div class="t" style="left:240.50px;top:107.40px;font-size:10.75px;font-weight:400;letter-spacing:0.511px;color:#5e5e5e;">View real-time data insights into the</div>
<div class="t" style="left:239.50px;top:124.00px;font-size:10.75px;font-weight:400;letter-spacing:0.582px;color:#5e5e5e;">health of your membership program.</div>
<div class="t" style="left:493.60px;top:97.30px;font-size:10.75px;font-weight:400;letter-spacing:0.360px;color:#5e5e5e;">Year (2022)</div>
<div class="t" style="left:605.90px;top:97.30px;font-size:10.75px;font-weight:400;letter-spacing:0.500px;color:#5e5e5e;">Group (All)</div>
<div class="t" style="left:719.40px;top:97.30px;font-size:10.75px;font-weight:400;letter-spacing:0.382px;color:#5e5e5e;">Region (All)</div>
<div class="t" style="left:832.20px;top:97.30px;font-size:10.75px;font-weight:400;letter-spacing:0.538px;color:#5e5e5e;">Location (All)</div>
<div class="t" style="left:947.00px;top:98.42px;font-size:11.2px;font-weight:400;letter-spacing:-0.200px;color:#ffffff;">Apply Filter(s)</div>
<div class="t" style="left:962.67px;top:172.17px;font-size:10.2px;font-weight:400;-webkit-text-stroke:0.35px #1a7090;letter-spacing:0.000px;color:#1a7090;transform:scaleX(0.9317);transform-origin:0 0;">DOWNLOAD REPORT</div>
<div class="t" style="left:260.00px;top:217.77px;font-size:13.5px;font-weight:700;letter-spacing:0.033px;color:#84b2c1;">Subscriptions</div>
<div class="t" style="left:260.00px;top:292.97px;font-size:13.5px;font-weight:700;letter-spacing:0.433px;color:#84b2c1;">Members</div>
<div class="t" style="left:440.70px;top:208.02px;font-size:12.5px;font-weight:700;letter-spacing:1.100px;color:#84b2c1;">New</div>
<div class="t" style="left:600.70px;top:208.02px;font-size:12.5px;font-weight:700;letter-spacing:1.000px;color:#84b2c1;">Renewed</div>
<div class="t" style="left:761.20px;top:208.02px;font-size:12.5px;font-weight:700;letter-spacing:0.680px;color:#84b2c1;">Re-Enrolled</div>
<div class="t" style="left:922.00px;top:208.02px;font-size:12.5px;font-weight:700;letter-spacing:0.850px;color:#84b2c1;">Total</div>
<div class="t" style="left:440.70px;top:283.12px;font-size:12.5px;font-weight:700;letter-spacing:1.100px;color:#84b2c1;">New</div>
<div class="t" style="left:600.70px;top:283.12px;font-size:12.5px;font-weight:700;letter-spacing:1.000px;color:#84b2c1;">Renewed</div>
<div class="t" style="left:761.20px;top:283.12px;font-size:12.5px;font-weight:700;letter-spacing:0.680px;color:#84b2c1;">Re-Enrolled</div>
<div class="t" style="left:922.00px;top:283.12px;font-size:12.5px;font-weight:700;letter-spacing:0.850px;color:#84b2c1;">Total</div>
<div class="t" style="left:441.30px;top:229.39px;font-size:18.2px;font-weight:700;letter-spacing:0.750px;color:#0f6f8e;">2,985</div>
<div class="t" style="left:601.30px;top:229.39px;font-size:18.2px;font-weight:700;letter-spacing:0.750px;color:#0f6f8e;">2,566</div>
<div class="t" style="left:761.80px;top:229.39px;font-size:18.2px;font-weight:700;letter-spacing:1.300px;color:#0f6f8e;">583</div>
<div class="t" style="left:921.95px;top:229.39px;font-size:18.2px;font-weight:700;letter-spacing:0.000px;color:#0f6f8e;transform:scaleX(0.9467);transform-origin:0 0;">6,134</div>
<div class="t" style="left:441.40px;top:303.89px;font-size:18.2px;font-weight:700;letter-spacing:0.950px;color:#0f6f8e;">3,406</div>
<div class="t" style="left:601.26px;top:303.89px;font-size:18.2px;font-weight:700;letter-spacing:0.000px;color:#0f6f8e;transform:scaleX(0.9432);transform-origin:0 0;">3,313</div>
<div class="t" style="left:761.72px;top:303.89px;font-size:18.2px;font-weight:700;letter-spacing:0.000px;color:#0f6f8e;transform:scaleX(0.8759);transform-origin:0 0;">713</div>
<div class="t" style="left:921.80px;top:303.89px;font-size:18.2px;font-weight:700;letter-spacing:0.150px;color:#0f6f8e;">7,432</div>
<div class="t" style="left:258.90px;top:407.73px;font-size:11.3px;font-weight:400;-webkit-text-stroke:0.35px #1a7797;letter-spacing:1.250px;color:#1a7797;">Month</div>
<div class="t" style="left:389.20px;top:379.33px;font-size:11.3px;font-weight:700;letter-spacing:0.000px;color:#1a7797;transform:scaleX(0.9489);transform-origin:0 0;">SUBSCRIPTIONS</div>
<div class="t" style="left:610.76px;top:379.33px;font-size:11.3px;font-weight:700;letter-spacing:0.000px;color:#1a7797;transform:scaleX(0.9357);transform-origin:0 0;">MEMBERS</div>
<div class="t" style="left:359.70px;top:399.93px;font-size:11.3px;font-weight:400;-webkit-text-stroke:0.35px #1a7797;letter-spacing:1.100px;color:#1a7797;">New</div>
<div class="t" style="left:406.60px;top:399.93px;font-size:11.3px;font-weight:400;-webkit-text-stroke:0.35px #1a7797;letter-spacing:0.800px;color:#1a7797;">Renewed</div>
<div class="t" style="left:482.70px;top:399.93px;font-size:11.3px;font-weight:400;-webkit-text-stroke:0.35px #1a7797;letter-spacing:1.000px;color:#1a7797;">Re-</div>
<div class="t" style="left:470.30px;top:417.23px;font-size:11.3px;font-weight:400;-webkit-text-stroke:0.35px #1a7797;letter-spacing:0.600px;color:#1a7797;">Enrolled</div>
<div class="t" style="left:564.70px;top:399.93px;font-size:11.3px;font-weight:400;-webkit-text-stroke:0.35px #1a7797;letter-spacing:1.100px;color:#1a7797;">New</div>
<div class="t" style="left:611.60px;top:399.93px;font-size:11.3px;font-weight:400;-webkit-text-stroke:0.35px #1a7797;letter-spacing:0.800px;color:#1a7797;">Renewed</div>
<div class="t" style="left:687.70px;top:399.93px;font-size:11.3px;font-weight:400;-webkit-text-stroke:0.35px #1a7797;letter-spacing:1.000px;color:#1a7797;">Re-</div>
<div class="t" style="left:675.30px;top:417.23px;font-size:11.3px;font-weight:400;-webkit-text-stroke:0.35px #1a7797;letter-spacing:0.600px;color:#1a7797;">Enrolled</div>
<div class="t" style="left:754.40px;top:407.83px;font-size:11.3px;font-weight:400;-webkit-text-stroke:0.35px #1a7797;letter-spacing:0.250px;color:#1a7797;">Renewal %</div>
<div class="t" style="left:860.30px;top:399.93px;font-size:11.3px;font-weight:400;-webkit-text-stroke:0.35px #1a7797;letter-spacing:0.383px;color:#1a7797;">Re-Enrolled %</div>
<div class="t" style="left:967.30px;top:399.93px;font-size:11.3px;font-weight:400;-webkit-text-stroke:0.35px #1a7797;letter-spacing:0.700px;color:#1a7797;">Net Retention</div>
<div class="t" style="left:993.80px;top:417.23px;font-size:11.3px;font-weight:400;-webkit-text-stroke:0.35px #1a7797;letter-spacing:-2.400px;color:#1a7797;">%</div>
<div class="t" style="left:240.10px;top:734.48px;font-size:10.3px;font-weight:400;letter-spacing:-0.005px;color:#777777;">© 2022 • Membersy LLC • All Rights Reserved</div>
<div class="t" style="left:896.80px;top:734.57px;font-size:10.2px;font-weight:400;letter-spacing:0.147px;color:#2f87a6;">Terms of Service</div>
<div class="t" style="left:995.50px;top:734.57px;font-size:10.2px;font-weight:400;letter-spacing:0.154px;color:#2f87a6;">Privacy Policy</div>
<div class="t" style="left:48.80px;top:24.89px;font-size:26px;font-weight:400;letter-spacing:0.343px;color:#ffffff;-webkit-text-stroke:0.25px #066f8f;">membersy</div>
<div class="t" style="left:172.30px;top:24.89px;font-size:26px;font-weight:400;letter-spacing:-1.400px;color:#ffffff;-webkit-text-stroke:0.25px #066f8f;">.</div>
<div class="t" style="left:596.80px;top:724.33px;font-size:20.4px;font-weight:400;letter-spacing:4.200px;color:#444444;font-style:italic;-webkit-text-stroke:0.4px #ffffff;">connect</div>
<div class="t" style="left:598.00px;top:746.62px;font-size:6px;font-weight:400;letter-spacing:0.711px;color:#777777;">powered by</div>
<div class="t" style="left:640.30px;top:745.01px;font-size:9.2px;font-weight:400;letter-spacing:1.143px;color:#444444;">membersy</div>
<div class="t" style="left:690.60px;top:745.44px;font-size:8.7px;font-weight:700;letter-spacing:1.200px;color:#2bb5b0;">.</div>
</div>
</body></html>
